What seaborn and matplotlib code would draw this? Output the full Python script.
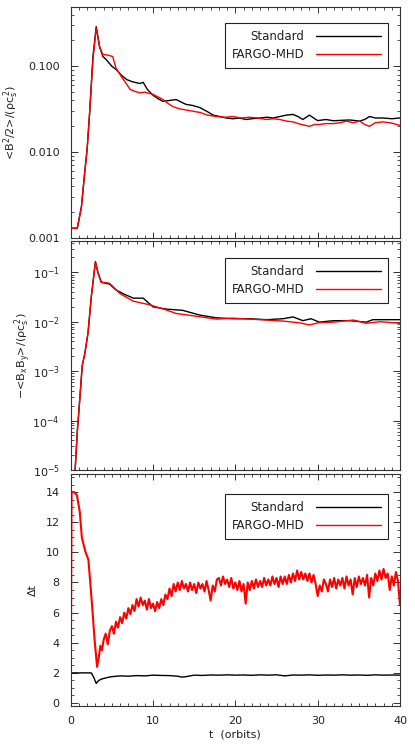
import numpy as np
import matplotlib
matplotlib.use("Agg")
import matplotlib.pyplot as plt
import matplotlib.ticker as mticker
import seaborn as sns

# ==================================
# data
# ==================================

# top panel: magnetic energy <B^2/2>/(rho cs^2)
t_emag_std = [0, 0.8, 1.3, 1.7, 2.0, 2.3, 2.7, 3.1, 3.5, 3.9,
              4.3, 5.0, 5.5, 6.2, 6.8, 7.5, 8.4, 8.8, 9.3, 10,
              10.6, 11.2, 12, 12.8, 13.5, 14, 14.8, 15.7, 16.5, 17.3,
              18.1, 18.9, 19.7, 20.5, 21.3, 22, 23, 23.8, 24.6, 25.4,
              26.2, 27, 27.6, 28.2, 28.6, 29, 29.5, 30, 31, 31.9,
              33, 33.9, 35.1, 35.7, 36.3, 37, 37.9, 39, 40]
emag_std = [0.0013, 0.0013, 0.0023, 0.0058, 0.011, 0.029, 0.13, 0.29, 0.17, 0.13,
            0.12, 0.10, 0.092, 0.078, 0.070, 0.066, 0.063, 0.065, 0.054, 0.046,
            0.042, 0.039, 0.040, 0.041, 0.038, 0.036, 0.035, 0.033, 0.030, 0.027,
            0.026, 0.025, 0.0245, 0.025, 0.024, 0.0245, 0.025, 0.0255, 0.025, 0.026,
            0.027, 0.0275, 0.026, 0.024, 0.0255, 0.027, 0.025, 0.0233, 0.024, 0.0232,
            0.0235, 0.0237, 0.023, 0.024, 0.026, 0.025, 0.025, 0.0245, 0.025]

t_emag_fargo = [0, 0.8, 1.3, 1.7, 2.0, 2.3, 2.7, 3.1, 3.5, 3.9,
                4.5, 5.1, 5.5, 6.0, 6.5, 7.2, 7.8, 8.4, 9.0, 10,
                10.6, 11.2, 11.8, 12.4, 13.2, 14, 14.8, 15.7, 16.6, 17.7,
                18.7, 19.7, 20.7, 21.7, 22.7, 23.8, 24.6, 25.4, 26.2, 27,
                28, 29, 29.6, 30.2, 31, 31.9, 32.7, 33.5, 34.3, 35.1,
                35.7, 36.3, 37, 37.9, 38.8, 40]
emag_fargo = [0.0013, 0.0013, 0.0023, 0.0058, 0.011, 0.029, 0.12, 0.28, 0.17, 0.137,
              0.135, 0.13, 0.095, 0.080, 0.068, 0.054, 0.051, 0.049, 0.050, 0.047,
              0.044, 0.041, 0.037, 0.034, 0.032, 0.031, 0.030, 0.029, 0.027, 0.026,
              0.0255, 0.026, 0.025, 0.0255, 0.025, 0.024, 0.0245, 0.024, 0.023, 0.0225,
              0.021, 0.020, 0.021, 0.021, 0.0215, 0.0215, 0.022, 0.023, 0.022, 0.023,
              0.021, 0.020, 0.022, 0.0225, 0.022, 0.0205]

# middle panel: Maxwell stress -<BxBy>/(rho cs^2)
t_stress_std = [0.3, 0.8, 1.1, 1.4, 1.7, 2.1, 2.5, 3.0, 3.3, 3.7,
                4.2, 4.7, 5.5, 6.5, 7.6, 8.8, 10, 11.6, 13.6, 15.7,
                17.7, 19.7, 21.7, 23.8, 25.8, 27, 28.2, 29.2, 30.2, 31.9,
                33.9, 35.9, 36.7, 38.4, 40]
stress_std = [2e-6, 6e-5, 2.7e-4, 1.3e-3, 2.2e-3, 5.9e-3, 0.032, 0.165, 0.10, 0.064,
              0.060, 0.058, 0.044, 0.036, 0.030, 0.030, 0.020, 0.018, 0.017, 0.0136,
              0.012, 0.0115, 0.0115, 0.011, 0.0115, 0.0125, 0.0105, 0.0115, 0.0098, 0.0105,
              0.0105, 0.0098, 0.011, 0.011, 0.011]

t_stress_fargo = [0.3, 0.8, 1.1, 1.4, 1.7, 2.1, 2.5, 3.0, 3.3, 3.7,
                  4.2, 4.7, 5.2, 6.0, 6.8, 7.6, 9.6, 11.6, 12.8, 15.7,
                  17.7, 19.7, 21.7, 23.8, 25.8, 27.8, 29, 30.2, 31.9, 34.3,
                  35.9, 37.6, 40]
stress_fargo = [2e-6, 6e-5, 2.7e-4, 1.3e-3, 2.2e-3, 5.9e-3, 0.032, 0.16, 0.10, 0.062,
                0.062, 0.060, 0.050, 0.037, 0.031, 0.026, 0.022, 0.0173, 0.0147, 0.0126,
                0.0113, 0.0118, 0.0113, 0.0108, 0.0103, 0.0095, 0.0086, 0.0096, 0.0098, 0.0108,
                0.0093, 0.0100, 0.0093]

# bottom panel: time step
t_dt_std = [0, 2.5, 2.8, 3.1, 3.4, 3.8, 4.5, 5, 6, 7, 8, 9, 10, 11, 12, 13, 13.5, 14,
            15, 16, 17, 18, 19, 20, 21, 22, 23, 24, 25, 26, 27, 28, 29, 30,
            31, 32, 33, 34, 35, 36, 37, 38, 39, 40]
dt_std = [2.0, 2.0, 1.7, 1.3, 1.5, 1.6, 1.7, 1.75, 1.8, 1.78, 1.82, 1.8, 1.85, 1.83, 1.82, 1.78, 1.72, 1.75,
          1.85, 1.83, 1.86, 1.85, 1.87, 1.85, 1.86, 1.84, 1.87, 1.85, 1.87, 1.8, 1.86, 1.85, 1.87, 1.84,
          1.86, 1.85, 1.87, 1.85, 1.86, 1.84, 1.87, 1.85, 1.86, 1.85]

t_dt_fargo_early = [0, 0.1, 0.4, 0.75, 1.1, 1.35, 1.75, 2.15, 2.55, 2.9, 3.2, 3.4, 3.6, 3.8]
dt_fargo_early = [0, 14.0, 14.0, 13.8, 12.7, 11.0, 10.1, 9.5, 6.8, 4.2, 2.4, 3.0, 3.8, 3.5]

# noisy part, sampled every quarter orbit from t=4 to t=40
t_dt_fargo_late = np.arange(4, 40.01, 0.25)
dt_fargo_late = [4.2, 4.6, 3.9, 4.8,  5.1, 4.6, 5.4, 5.0,  5.7, 5.3, 6.0, 5.6,
                 6.3, 5.9, 6.5, 6.1,  6.9, 6.4, 7.0, 6.5,  6.8, 6.2, 6.9, 6.3,
                 6.6, 6.1, 6.7, 6.3,  6.9, 6.5, 7.2, 6.9,  7.6, 7.1, 7.9, 7.4,
                 8.0, 7.5, 8.1, 7.6,  7.9, 7.4, 8.0, 7.5,  7.9, 7.3, 8.0, 7.6,
                 7.9, 7.4, 8.1, 7.5,  6.8, 7.8, 7.4, 8.2,  8.3, 7.8, 8.4, 7.9,
                 8.2, 7.7, 8.3, 7.6,  8.0, 7.5, 8.1, 7.4,  7.9, 6.6, 8.0, 7.5,
                 8.1, 7.6, 8.2, 7.7,  8.1, 7.7, 8.3, 7.8,  8.2, 7.8, 8.4, 7.9,
                 8.3, 7.7, 8.4, 7.9,  8.4, 7.9, 8.5, 8.0,  8.6, 8.1, 8.8, 8.2,
                 8.7, 8.2, 8.6, 8.1,  8.6, 8.0, 8.5, 7.9,  7.1, 7.8, 7.4, 8.2,
                 7.9, 7.4, 8.2, 7.7,  8.3, 7.6, 8.2, 7.8,  8.3, 7.6, 8.4, 7.8,
                 8.2, 7.2, 8.3, 7.7,  8.4, 7.9, 8.3, 7.8,  8.5, 7.0, 8.3, 7.8,
                 8.6, 8.1, 8.8, 8.2,  8.9, 8.3, 8.6, 7.5,  8.4, 7.8, 8.7, 8.1,
                 6.5]

t_dt_fargo = np.concatenate([t_dt_fargo_early, t_dt_fargo_late])
dt_fargo = np.concatenate([dt_fargo_early, dt_fargo_late])

labels = ["Standard", "FARGO-MHD"]
colors = ["black", "#ff0000"]

# ==================================
# style
# ==================================

sns.set_theme(style="ticks")
fs = 8
plt.rcParams["font.family"] = ["DejaVu Sans"]
plt.rcParams["font.size"] = fs
plt.rcParams["xtick.labelsize"] = fs
plt.rcParams["ytick.labelsize"] = fs
plt.rcParams["axes.labelsize"] = fs
plt.rcParams["legend.fontsize"] = 8.5
plt.rcParams["mathtext.default"] = "regular"
plt.rcParams["text.color"] = "#222222"
plt.rcParams["axes.labelcolor"] = "#222222"
plt.rcParams["xtick.color"] = "#333333"
plt.rcParams["ytick.color"] = "#333333"
plt.rcParams["xtick.labelcolor"] = "#222222"
plt.rcParams["ytick.labelcolor"] = "#222222"
plt.rcParams["axes.edgecolor"] = "#333333"
plt.rcParams["axes.linewidth"] = 0.8

fig = plt.figure(figsize=(4.15, 7.48), dpi=100)
left, width = 0.1704, 0.7935
ax1 = fig.add_axes([left, 0.6818, width, 0.3088])
ax2 = fig.add_axes([left, 0.3717, width, 0.3061])
ax3 = fig.add_axes([left, 0.0561, width, 0.3102])

# ==================================
# panels
# ==================================

sns.lineplot(x=t_emag_std, y=emag_std, ax=ax1, color=colors[0], lw=1.0,
             label=labels[0], estimator=None, sort=False)
sns.lineplot(x=t_emag_fargo, y=emag_fargo, ax=ax1, color=colors[1], lw=1.0,
             label=labels[1], estimator=None, sort=False)

sns.lineplot(x=t_stress_std, y=stress_std, ax=ax2, color=colors[0], lw=1.0,
             label=labels[0], estimator=None, sort=False)
sns.lineplot(x=t_stress_fargo, y=stress_fargo, ax=ax2, color=colors[1], lw=1.0,
             label=labels[1], estimator=None, sort=False)

sns.lineplot(x=t_dt_std, y=dt_std, ax=ax3, color=colors[0], lw=1.0,
             label=labels[0], estimator=None, sort=False)
sns.lineplot(x=t_dt_fargo, y=dt_fargo, ax=ax3, color=colors[1], lw=1.5,
             label=labels[1], estimator=None, sort=False)

ax1.set_yscale("log")
ax1.set_ylim(0.001, 0.49)
ax1.yaxis.set_major_locator(mticker.FixedLocator([0.001, 0.01, 0.1]))
ax1.yaxis.set_major_formatter(mticker.FormatStrFormatter("%.3f"))
ax1.yaxis.set_minor_locator(mticker.LogLocator(base=10, subs=np.arange(2, 10)))
ax1.yaxis.set_minor_formatter(mticker.NullFormatter())

ax2.set_yscale("log")
ax2.set_ylim(1e-5, 0.43)
ax2.yaxis.set_major_locator(mticker.FixedLocator([1e-5, 1e-4, 1e-3, 1e-2, 1e-1]))
ax2.yaxis.set_minor_locator(mticker.LogLocator(base=10, subs=np.arange(2, 10)))
ax2.yaxis.set_minor_formatter(mticker.NullFormatter())

ax3.set_ylim(-0.2, 15.2)
ax3.yaxis.set_major_locator(mticker.MultipleLocator(2))
ax3.yaxis.set_minor_locator(mticker.MultipleLocator(0.5))

for ax in [ax1, ax2, ax3]:
    ax.set_xlim(0, 40)
    ax.xaxis.set_major_locator(mticker.MultipleLocator(10))
    ax.xaxis.set_minor_locator(mticker.MultipleLocator(1))
    ax.tick_params(which="both", direction="in", top=True, right=True)
    ax.tick_params(axis="y", which="major", length=5, width=0.7, pad=8)
    ax.tick_params(axis="y", which="minor", length=2.5, width=0.6)
    ax.tick_params(axis="x", which="major", length=4, width=0.7, pad=7)
    ax.tick_params(axis="x", which="minor", length=2, width=0.6)
    ax.set_xlabel("")

ax1.tick_params(labelbottom=False)
ax2.tick_params(labelbottom=False)

ax1.set_ylabel("<B$^2$/2>/(ρc$_s^{\\,2}$)")
ax2.set_ylabel("−<B$_x$B$_y$>/(ρc$_s^{\\,2}$)")
ax3.set_ylabel("Δt")
ax3.set_xlabel("t  (orbits)", labelpad=3)
ax1.yaxis.set_label_coords(-0.152, 0.5)
ax2.yaxis.set_label_coords(-0.115, 0.5)
ax3.yaxis.set_label_coords(-0.10, 0.5)

legend_tops = [0.931, 0.926, 0.914]
for ax, top in zip([ax1, ax2, ax3], legend_tops):
    leg = ax.legend(loc="upper right", bbox_to_anchor=(0.964, top), borderaxespad=0,
                    markerfirst=False, handlelength=5.5, handletextpad=1.0,
                    labelspacing=0.45, borderpad=0.6, fancybox=False,
                    frameon=True)
    leg.get_frame().set_edgecolor("#222222")
    leg.get_frame().set_linewidth(0.8)
    leg.get_frame().set_alpha(1)
    for line in leg.get_lines():
        line.set_linewidth(1.0)

fig.savefig("out.png", dpi=100)
